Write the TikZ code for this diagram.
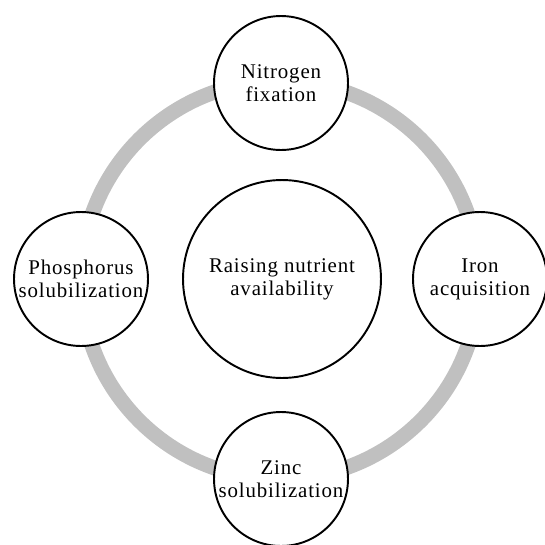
\documentclass[tikz,border=0pt]{standalone}
\usepackage{fontspec}
\setmainfont[LetterSpace=4]{Liberation Serif}
\usepackage{tikz}
\usetikzlibrary{positioning}

\definecolor{ringgray}{RGB}{192,192,192}
\tikzset{
  ring/.style={draw=ringgray, line width=0.3cm},
  topic/.style={circle, draw, line width=1.1pt, fill=white, inner sep=0pt,
    minimum size=2.68cm, align=center, font=\fontsize{11.9}{13.2}\selectfont},
  core/.style={topic, minimum size=3.96cm}
}

\begin{document}
\begin{tikzpicture}[x=0.02cm,y=-0.02cm]
  \useasboundingbox (0,0) rectangle (545,545);
  \draw [ring] (280,280) circle (199);
  \node [core] (center) at (282,279) {Raising nutrient\\availability};
  \node [topic] (nitrogen) at (281,83) {Nitrogen\\fixation};
  \node [topic] (iron) at (480,279) {Iron\\acquisition};
  \node [topic] (zinc) at (281,479) {Zinc\\solubilization};
  \node [topic] (phosphorus) at (81,279) {Phosphorus\\solubilization};
\end{tikzpicture}
\end{document}
